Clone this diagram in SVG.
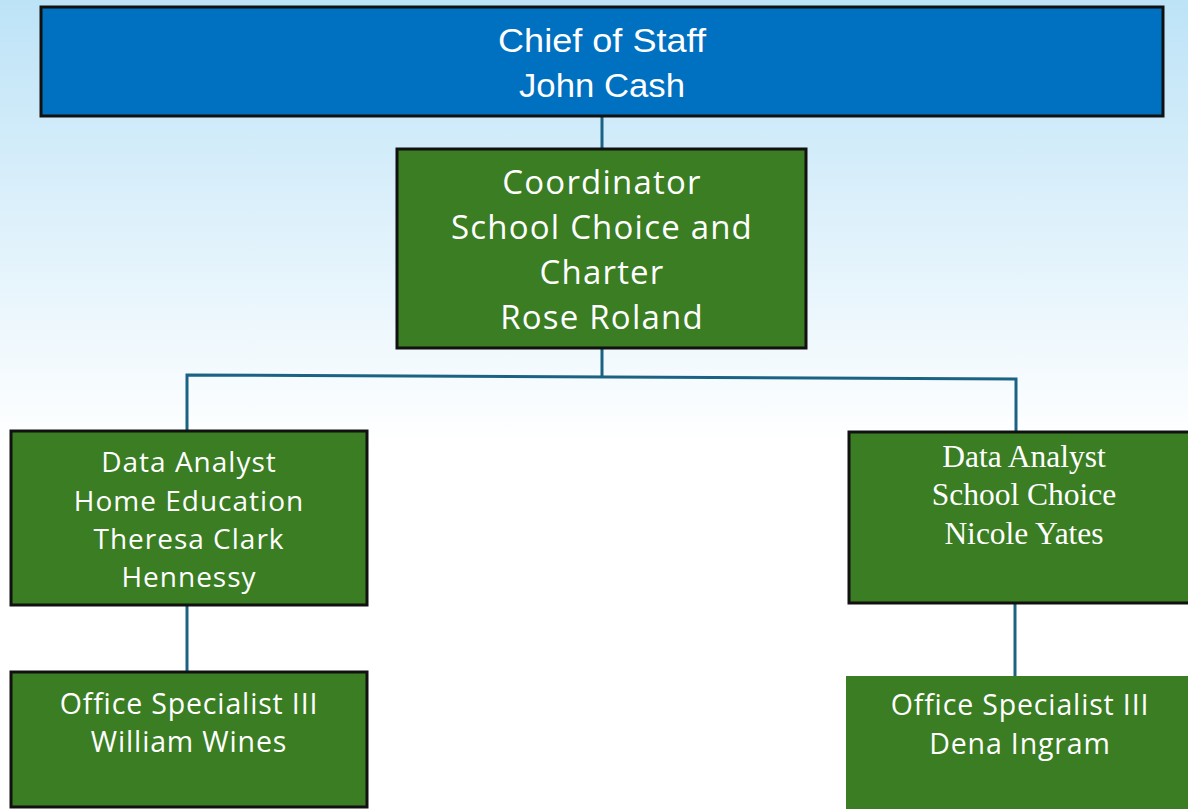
<svg xmlns="http://www.w3.org/2000/svg" width="1188" height="809" viewBox="0 0 1188 809">
<defs>
<linearGradient id="bg" x1="0" y1="0" x2="0" y2="1">
<stop offset="0" stop-color="#bde3f7"/>
<stop offset="0.55" stop-color="#ffffff"/>
<stop offset="1" stop-color="#ffffff"/>
</linearGradient>
<style>
.box{stroke:#111;stroke-width:3}
.blue{fill:#0070c0}
.green{fill:#3a7d22}
.t{fill:#fff;text-anchor:middle;font-family:"Open Sans","Liberation Sans",Arial,sans-serif}
.n{font-family:"Liberation Sans",Arial,sans-serif}
.s{font-family:"Liberation Serif","Times New Roman",serif}
.c{stroke:#1b6384;stroke-width:3;fill:none}
.co{font-size:33px;letter-spacing:1.2px}
.da{font-size:28px;letter-spacing:1px}
.os{font-size:28.5px;letter-spacing:0.85px}
</style>
</defs>
<rect width="1188" height="809" fill="url(#bg)"/>
<g id="connectors">
<line class="c" x1="602" y1="116" x2="602" y2="150"/>
<line class="c" x1="602" y1="348" x2="602" y2="378"/>
<polyline class="c" points="187,432 187,375 1016,379 1016,433"/>
<line class="c" x1="187" y1="605" x2="187" y2="672"/>
<line class="c" x1="1015" y1="603" x2="1015" y2="676"/>
</g>
<g id="chief">
<rect class="box blue" x="41" y="7" width="1122" height="109"/>
<text class="t n" font-size="34" x="602" y="52" textLength="208" lengthAdjust="spacingAndGlyphs">Chief of Staff</text>
<text class="t n" font-size="34" x="602" y="97" textLength="166" lengthAdjust="spacingAndGlyphs">John Cash</text>
</g>
<g id="coordinator">
<rect class="box green" x="397" y="149" width="409" height="199"/>
<text class="t co" x="602" y="194">Coordinator</text>
<text class="t co" x="602" y="239">School Choice and</text>
<text class="t co" x="602" y="284">Charter</text>
<text class="t co" x="602" y="329">Rose Roland</text>
</g>
<g id="analyst-home">
<rect class="box green" x="11" y="431" width="356" height="174"/>
<text class="t da" x="189" y="472">Data Analyst</text>
<text class="t da" x="189" y="511">Home Education</text>
<text class="t da" x="189" y="549">Theresa Clark</text>
<text class="t da" x="189" y="587">Hennessy</text>
</g>
<g id="analyst-choice">
<rect class="box green" x="849" y="432" width="342" height="171"/>
<text class="t s" font-size="31.5" x="1024" y="467">Data Analyst</text>
<text class="t s" font-size="31.5" x="1024" y="505">School Choice</text>
<text class="t s" font-size="31.5" x="1024" y="544">Nicole Yates</text>
</g>
<g id="office-wines">
<rect class="box green" x="11" y="672" width="356" height="135"/>
<text class="t os" x="189" y="714">Office Specialist III</text>
<text class="t os" x="189" y="752">William Wines</text>
</g>
<g id="office-ingram">
<rect class="green" x="846" y="676" width="342" height="133"/>
<text class="t os" x="1020" y="715">Office Specialist III</text>
<text class="t os" x="1020" y="754">Dena Ingram</text>
</g>
</svg>
